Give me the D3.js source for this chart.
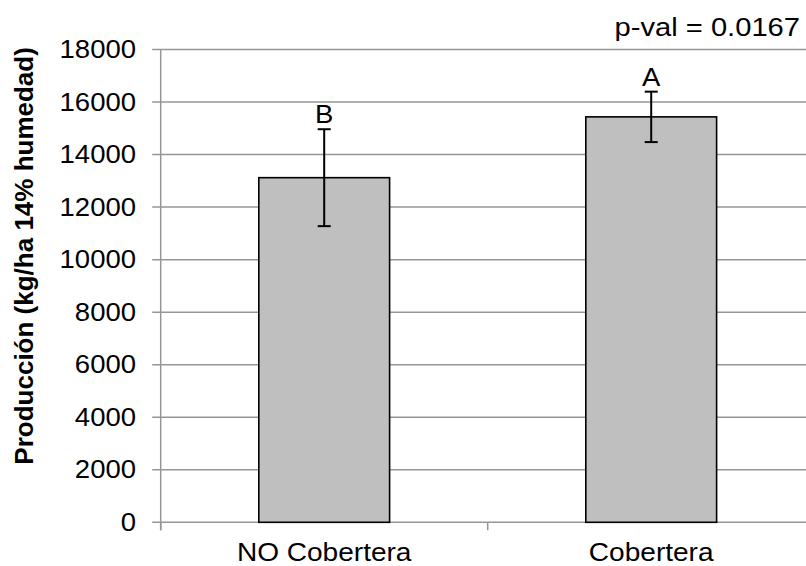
<!DOCTYPE html>
<html>
<head>
<meta charset="utf-8">
<script src="https://cdn.jsdelivr.net/npm/d3@7"></script>
<style>
  html, body { margin: 0; padding: 0; background: #fff; }
  svg { display: block; font-family: Arial, "Liberation Sans", sans-serif; }
</style>
</head>
<body>
<svg id="chart" width="806" height="566"></svg>
<script>
// Yield per treatment (kg/ha at 14% moisture), with error bar half-widths
const categories = ["NO Cobertera", "Cobertera"];
const means = [13120, 15435];
const errors = [1845, 960];
const letters = ["B", "A"];
const yTicks = [0, 2000, 4000, 6000, 8000, 10000, 12000, 14000, 16000, 18000];
const pValueText = "p-val = 0.0167";
const yTitle = "Producción (kg/ha 14% humedad)";

const svg = d3.select("#chart");
const plotLeft = 160.7, plotRight = 814.7, plotTop = 49.5, plotBottom = 522.3;
const stretch = 1.1;

const x = d3.scaleBand().domain(categories).range([plotLeft, plotRight])
  .paddingInner(0.6).paddingOuter(0.3);
const y = d3.scaleLinear().domain([0, 18000]).range([plotBottom, plotTop]);

// Horizontal gridlines with tick stubs left of the axis
svg.append("g").selectAll("line").data(yTicks).join("line")
  .attr("x1", plotLeft - 8.5).attr("x2", 806)
  .attr("y1", d => y(d)).attr("y2", d => y(d))
  .attr("stroke", "#969696").attr("stroke-width", 1.5);

// Value axis line
svg.append("line")
  .attr("x1", plotLeft).attr("x2", plotLeft)
  .attr("y1", plotTop).attr("y2", plotBottom + 8)
  .attr("stroke", "#969696").attr("stroke-width", 1.5);

// Category boundary ticks
const boundaries = [plotLeft, (x(categories[0]) + x.bandwidth() + x(categories[1])) / 2];
svg.append("g").selectAll("line").data(boundaries).join("line")
  .attr("x1", d => d).attr("x2", d => d)
  .attr("y1", plotBottom).attr("y2", plotBottom + 8)
  .attr("stroke", "#969696").attr("stroke-width", 1.5);

// Y tick labels
svg.append("g").selectAll("text").data(yTicks).join("text")
  .attr("transform", d => `translate(136,${y(d)}) scale(${stretch},1)`)
  .attr("text-anchor", "end")
  .attr("dominant-baseline", "central")
  .attr("font-size", 25)
  .attr("fill", "#000")
  .text(d => d);

// Bars
svg.append("g").selectAll("rect").data(categories).join("rect")
  .attr("x", d => x(d))
  .attr("y", (d, i) => y(means[i]))
  .attr("width", x.bandwidth())
  .attr("height", (d, i) => y(0) - y(means[i]))
  .attr("fill", "#bfbfbf")
  .attr("stroke", "#000")
  .attr("stroke-width", 1.6);

// Error bars
const eb = svg.append("g").attr("stroke", "#000").attr("stroke-width", 2);
categories.forEach((c, i) => {
  const cx = x(c) + x.bandwidth() / 2;
  eb.append("line").attr("x1", cx).attr("x2", cx)
    .attr("y1", y(means[i] + errors[i])).attr("y2", y(means[i] - errors[i]));
  [means[i] + errors[i], means[i] - errors[i]].forEach(v => {
    eb.append("line").attr("x1", cx - 6.5).attr("x2", cx + 6.5)
      .attr("y1", y(v)).attr("y2", y(v));
  });
});

// Significance letters
svg.append("g").selectAll("text").data(categories).join("text")
  .attr("transform", (d, i) =>
    `translate(${x(d) + x.bandwidth() / 2},${y(means[i] + errors[i]) - 6}) scale(${stretch},1)`)
  .attr("text-anchor", "middle")
  .attr("font-size", 25)
  .text((d, i) => letters[i]);

// Category labels
svg.append("g").selectAll("text").data(categories).join("text")
  .attr("transform", d => `translate(${x(d) + x.bandwidth() / 2},561) scale(${stretch},1)`)
  .attr("text-anchor", "middle")
  .attr("font-size", 25.5)
  .text(d => d);

// p-value note
svg.append("text")
  .attr("transform", `translate(800,36) scale(${stretch},1)`)
  .attr("text-anchor", "end")
  .attr("font-size", 26.5)
  .text(pValueText);

// Y axis title
svg.append("text")
  .attr("transform", `translate(33,${(plotTop + plotBottom) / 2 - 30}) rotate(-90)`)
  .attr("text-anchor", "middle")
  .attr("font-size", 26)
  .attr("font-weight", "bold")
  .text(yTitle);
</script>
</body>
</html>
